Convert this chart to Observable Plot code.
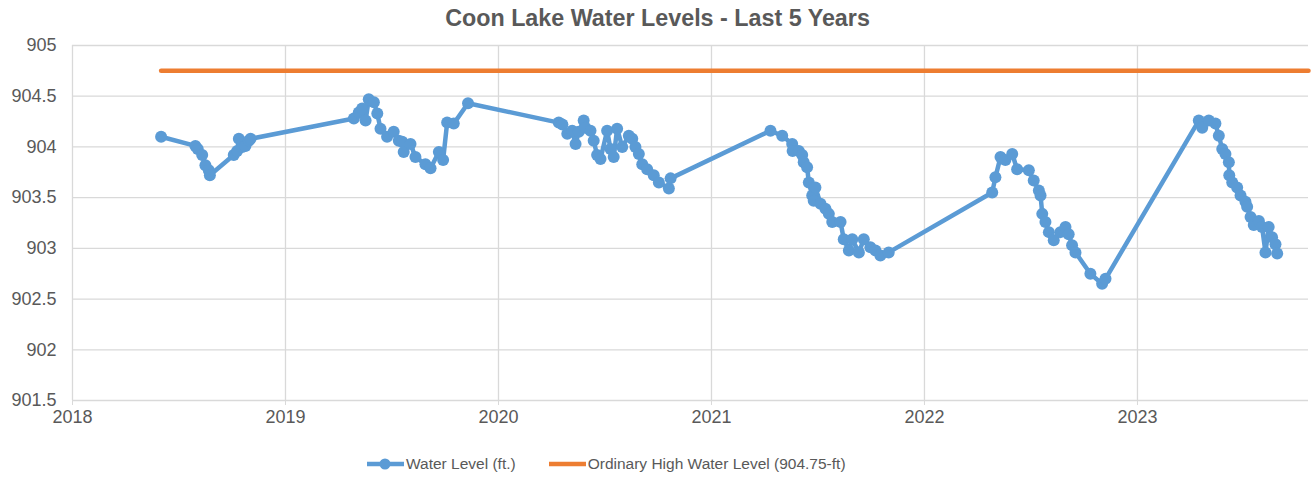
<!DOCTYPE html>
<html>
<head>
<meta charset="utf-8">
<script src="https://cdn.jsdelivr.net/npm/d3@7"></script>
<script src="https://cdn.jsdelivr.net/npm/@observablehq/plot@0.6"></script>
<style>
  html, body { margin: 0; padding: 0; background: #ffffff; }
  body { width: 1315px; height: 478px; overflow: hidden; font-family: "Liberation Sans", Arial, sans-serif; }
  #title { height: 30px; line-height: 36px; text-align: center; font-weight: bold; font-size: 23.3px; color: #595959; }
  #legend { display: flex; justify-content: flex-start; align-items: center; font-size: 15.5px; color: #595959; margin-top: 20px; padding-left: 367px; }
  .item { display: flex; align-items: center; margin-right: 33px; }
  .item svg { margin-right: 2px; }
</style>
</head>
<body>
<div id="title">Coon Lake Water Levels - Last 5 Years</div>
<div id="chart"></div>
<div id="legend"></div>
<script>
// Decimal-year dates of each water level reading
const years = [
  2018.416, 2018.577, 2018.588, 2018.609, 2018.624, 2018.640, 2018.645, 2018.757, 2018.773, 2018.781,
  2018.797, 2018.812, 2018.828, 2018.836,
  2019.321, 2019.344, 2019.360, 2019.376, 2019.391, 2019.415, 2019.431, 2019.446, 2019.477, 2019.508,
  2019.532, 2019.548, 2019.555, 2019.587, 2019.610, 2019.657, 2019.681, 2019.720, 2019.740, 2019.759,
  2019.790, 2019.857,
  2020.283, 2020.300, 2020.323, 2020.346, 2020.362, 2020.377, 2020.400, 2020.408, 2020.432, 2020.447,
  2020.463, 2020.479, 2020.510, 2020.526, 2020.541, 2020.557, 2020.581, 2020.612, 2020.628, 2020.643,
  2020.659, 2020.675, 2020.698, 2020.729, 2020.753, 2020.800, 2020.808,
  2021.277, 2021.332, 2021.379, 2021.381, 2021.410, 2021.426, 2021.433, 2021.449, 2021.457, 2021.473,
  2021.480, 2021.488, 2021.512, 2021.535, 2021.551, 2021.567, 2021.606, 2021.621, 2021.645, 2021.661,
  2021.692, 2021.715, 2021.746, 2021.770, 2021.793, 2021.832,
  2022.318, 2022.333, 2022.357, 2022.380, 2022.412, 2022.435, 2022.490, 2022.513, 2022.537, 2022.545,
  2022.553, 2022.568, 2022.584, 2022.607, 2022.638, 2022.662, 2022.677, 2022.693, 2022.709, 2022.779,
  2022.834, 2022.850,
  2023.288, 2023.304, 2023.335, 2023.366, 2023.382, 2023.398, 2023.413, 2023.429, 2023.431, 2023.445,
  2023.468, 2023.484, 2023.507, 2023.515, 2023.531, 2023.546, 2023.570, 2023.585, 2023.601, 2023.616,
  2023.632, 2023.648, 2023.656
];
// Water level (ft.) for each date
const levels = [
  904.10, 904.01, 903.98, 903.92, 903.82, 903.77, 903.72, 903.92, 903.96, 904.08,
  904.00, 904.01, 904.06, 904.08,
  904.28, 904.34, 904.38, 904.26, 904.47, 904.44, 904.33, 904.18, 904.10, 904.15,
  904.06, 904.05, 903.95, 904.03, 903.90, 903.83, 903.79, 903.95, 903.87, 904.24,
  904.23, 904.43,
  904.24, 904.22, 904.13, 904.16, 904.03, 904.15, 904.26, 904.19, 904.16, 904.06,
  903.92, 903.88, 904.16, 903.98, 903.90, 904.18, 904.00, 904.11, 904.08, 904.00,
  903.93, 903.83, 903.78, 903.72, 903.65, 903.59, 903.69,
  904.16, 904.11, 904.03, 903.96, 903.96, 903.92, 903.85, 903.80, 903.65, 903.52,
  903.47, 903.60, 903.44, 903.39, 903.34, 903.26, 903.26, 903.09, 902.98, 903.09,
  902.96, 903.09, 903.01, 902.98, 902.93, 902.96,
  903.55, 903.70, 903.90, 903.87, 903.93, 903.78, 903.77, 903.67, 903.57, 903.52,
  903.34, 903.26, 903.16, 903.08, 903.16, 903.21, 903.14, 903.03, 902.96, 902.75,
  902.65, 902.70,
  904.26, 904.19, 904.26, 904.23, 904.11, 903.98, 903.93, 903.85, 903.72, 903.65,
  903.60, 903.52, 903.46, 903.41, 903.31, 903.23, 903.27, 903.21, 902.96, 903.21,
  903.11, 903.04, 902.95
];
const ohwLevel = 904.75;
const ohwSpan = [2018.416, 2023.803];
const xTicks = [2018, 2019, 2020, 2021, 2022, 2023];
const yTicks = [901.5, 902, 902.5, 903, 903.5, 904, 904.5, 905];
const seriesNames = ["Water Level (ft.)", "Ordinary High Water Level (904.75-ft)"];
const colors = ["#5B9BD5", "#ED7D31"];

const data = years.map((t, i) => ({t, v: levels[i]}));
const ohw = ohwSpan.map(t => ({t, v: ohwLevel}));

const chart = Plot.plot({
  width: 1315,
  height: 405,
  marginLeft: 72,
  marginRight: 7,
  marginTop: 15,
  marginBottom: 35,
  style: {fontFamily: "'Liberation Sans', Arial, sans-serif", fontSize: "16px", color: "#595959", background: "#ffffff"},
  x: {domain: [2018, 2023.803], ticks: xTicks},
  y: {domain: [901.5, 905], ticks: yTicks},
  marks: [
    Plot.ruleX(xTicks, {stroke: "#d9d9d9", strokeWidth: 1.3}),
    Plot.ruleY(yTicks, {stroke: "#d9d9d9", strokeWidth: 1.3}),
    Plot.axisX({ticks: xTicks, tickFormat: d => String(d), tickSize: 5, tickPadding: 5, stroke: "#d9d9d9", fill: "#595959", fontSize: 18, label: null}),
    Plot.axisY({ticks: yTicks, tickFormat: d => String(d), tickSize: 0, tickPadding: 16, fill: "#595959", fontSize: 18, label: null}),
    Plot.line(ohw, {x: "t", y: "v", stroke: colors[1], strokeWidth: 4.5}),
    Plot.line(data, {x: "t", y: "v", stroke: colors[0], strokeWidth: 4.5, strokeLinejoin: "round"}),
    Plot.dot(data, {x: "t", y: "v", r: 6, fill: colors[0], stroke: "none"})
  ]
});
document.getElementById("chart").appendChild(chart);

const legend = document.getElementById("legend");
seriesNames.forEach((name, i) => {
  const item = document.createElement("div");
  item.className = "item";
  const marker = i === 0 ? `<circle cx="18" cy="8" r="5.5" fill="${colors[0]}"/>` : "";
  item.innerHTML = `<svg width="37" height="16"><line x1="0" y1="8" x2="37" y2="8" stroke="${colors[i]}" stroke-width="4.5"/>${marker}</svg><span>${name}</span>`;
  legend.appendChild(item);
});
</script>
</body>
</html>
